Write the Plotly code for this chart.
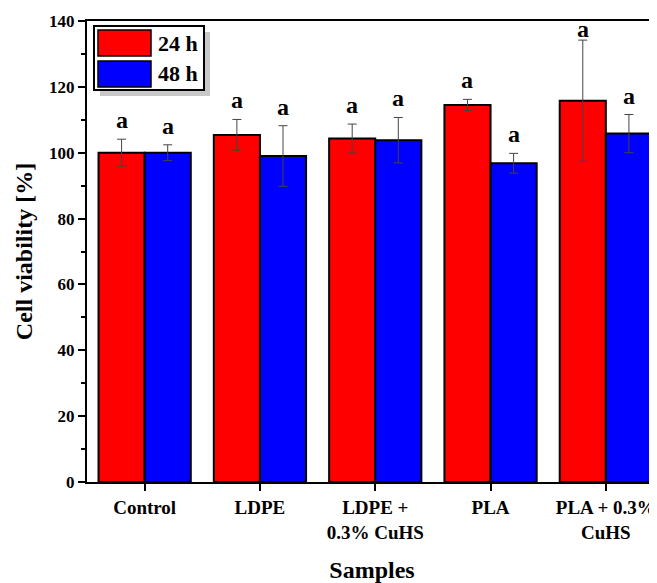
import plotly.graph_objects as go

categories = ["Control", "LDPE", "LDPE +<br>0.3% CuHS", "PLA", "PLA + 0.3%<br>CuHS"]
series_names = ["24 h", "48 h"]
values_24h = [100.0, 105.4, 104.3, 114.5, 115.8]
errors_24h = [4.1, 4.7, 4.4, 1.7, 18.4]
values_48h = [100.0, 99.0, 103.8, 96.8, 105.8]
errors_48h = [2.4, 9.2, 6.9, 3.0, 5.8]
letters_24h = ["a", "a", "a", "a", "a"]
letters_48h = ["a", "a", "a", "a", "a"]
y_ticks = [0, 20, 40, 60, 80, 100, 120, 140]

FONT = "Liberation Serif, Times New Roman, serif"
RED = "#ff0000"
BLUE = "#0000ff"
Y_MAX = 140

OFF = 8  # page body margin
W, H = 657 - OFF, 583 - OFF
L, T = 87 - OFF, 21 - OFF
R, B = 0, 101
PW, PH = W - L - R, H - T - B


def px(x):
    return (x - OFF - L) / PW


def py(y):
    return (H - B - (y - OFF)) / PH


xs = list(range(len(categories)))

fig = go.Figure()
for name, vals, errs, color in [
    (series_names[0], values_24h, errors_24h, RED),
    (series_names[1], values_48h, errors_48h, BLUE),
]:
    fig.add_trace(go.Bar(
        x=xs, y=vals, name=name,
        marker=dict(color=color, line=dict(color="black", width=2)),
        error_y=dict(type="data", array=errs, visible=True,
                     color="#444444", thickness=1, width=4.5),
        showlegend=False,
    ))

# significance letters (squeezed under the frame if they would cross it)
for vals, errs, letters, off in [
    (values_24h, errors_24h, letters_24h, -0.2),
    (values_48h, errors_48h, letters_48h, 0.2),
]:
    for i, (v, e, t) in enumerate(zip(vals, errs, letters)):
        top = v + e
        if top > Y_MAX - 10:
            fig.add_annotation(x=i + off, y=Y_MAX, xref="x", yref="y",
                               text=t, showarrow=False, yanchor="top", yshift=7,
                               font=dict(family=FONT, size=24, color="black", weight="bold"))
        else:
            fig.add_annotation(x=i + off, y=top, xref="x", yref="y",
                               text=t, showarrow=False, yanchor="bottom", yshift=4,
                               font=dict(family=FONT, size=24, color="black", weight="bold"))

# manual legend
shapes = []
shapes.append(dict(type="rect", xref="paper", yref="paper",
                   x0=px(100), x1=px(210), y0=py(96), y1=py(32),
                   fillcolor="#c8c8c8", line=dict(width=0), layer="above"))
shapes.append(dict(type="rect", xref="paper", yref="paper",
                   x0=px(94), x1=px(204), y0=py(90), y1=py(26),
                   fillcolor="white", line=dict(color="black", width=2), layer="above"))
for (y0, y1, color) in [(30, 56, RED), (61, 87, BLUE)]:
    shapes.append(dict(type="rect", xref="paper", yref="paper",
                       x0=px(98), x1=px(151), y0=py(y1), y1=py(y0),
                       fillcolor=color, line=dict(color="black", width=1.5), layer="above"))
for name, yc in zip(series_names, [43, 74]):
    fig.add_annotation(x=px(156), y=py(yc), xref="paper", yref="paper",
                       text=name, showarrow=False, xanchor="left", yanchor="middle",
                       font=dict(family=FONT, size=22, color="black", weight="bold"))

fig.update_layout(
    width=W, height=H,
    margin=dict(l=L, r=R, t=T, b=B),
    paper_bgcolor="white", plot_bgcolor="white",
    barmode="group", bargap=0.2, bargroupgap=0,
    shapes=shapes,
    font=dict(family=FONT, color="black"),
)
fig.update_xaxes(
    range=[-0.5, -0.5 + PW / 115.3],
    tickvals=xs, ticktext=categories,
    showline=True, linecolor="black", linewidth=2, mirror=True,
    ticks="outside", ticklen=7, tickwidth=2, tickcolor="black",
    tickfont=dict(family=FONT, size=19, color="black", weight="bold"),
    showgrid=False, zeroline=False,
    title=dict(text="Samples", font=dict(family=FONT, size=24, color="black", weight="bold"),
               standoff=22),
)
fig.update_yaxes(
    range=[0, Y_MAX], tickvals=y_ticks,
    showline=True, linecolor="black", linewidth=2, mirror=False,
    ticks="outside", ticklen=7, tickwidth=2, tickcolor="black",
    minor=dict(dtick=10, ticks="outside", ticklen=4, tickwidth=2, tickcolor="black", showgrid=False),
    tickfont=dict(family=FONT, size=17, color="black", weight="bold"),
    showgrid=False, zeroline=False,
    title=dict(text="Cell viability [%]", font=dict(family=FONT, size=24, color="black", weight="bold"),
               standoff=10),
)

fig.write_html("out.html")
